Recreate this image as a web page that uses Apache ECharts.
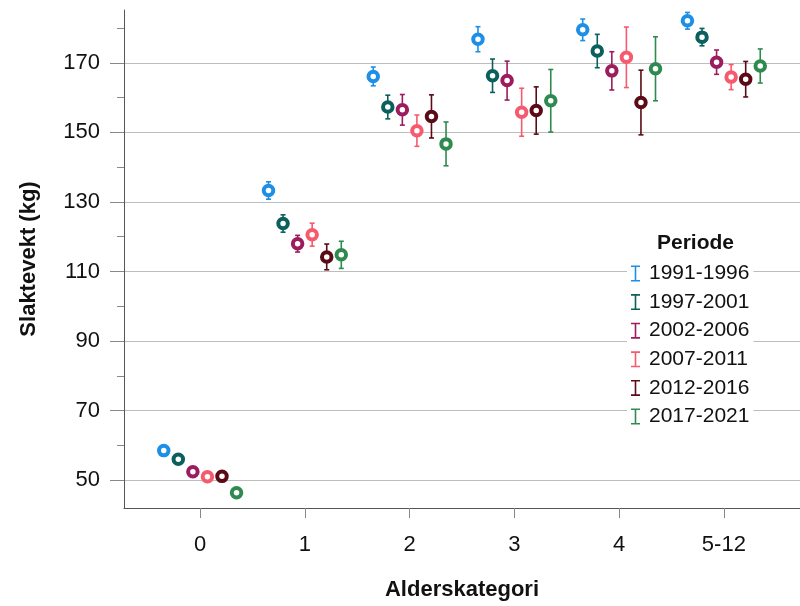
<!DOCTYPE html>
<html><head><meta charset="utf-8">
<script src="https://cdn.jsdelivr.net/npm/echarts@6/dist/echarts.min.js"></script>
<style>html,body{margin:0;padding:0;background:#fff}#c{width:800px;height:606px}</style>
</head><body><div id="c"></div>
<script>
const categories = ['0', '1', '2', '3', '4', '5-12'];
const periods = ['1991-1996', '1997-2001', '2002-2006', '2007-2011', '2012-2016', '2017-2021'];
const mean1991 = [58.5, 133.3, 166.1, 176.8, 179.5, 182.1];
const err1991  = [0.8, 2.5, 2.7, 3.6, 3.1, 2.4];
const mean1997 = [56.0, 123.8, 157.3, 166.3, 173.4, 177.4];
const err1997  = [0.8, 2.5, 3.4, 4.8, 4.8, 2.5];
const mean2002 = [52.4, 118.0, 156.5, 164.9, 167.7, 170.2];
const err2002  = [0.9, 2.4, 4.4, 5.6, 5.5, 3.5];
const mean2007 = [51.0, 120.6, 150.5, 155.8, 171.6, 165.9];
const err2007  = [0.9, 3.3, 4.5, 6.9, 8.7, 3.6];
const mean2012 = [51.1, 114.2, 154.6, 156.3, 158.6, 165.3];
const err2012  = [1.0, 3.7, 6.2, 6.8, 9.3, 5.1];
const mean2017 = [46.4, 114.8, 146.7, 159.1, 168.3, 169.1];
const err2017  = [1.1, 3.9, 6.3, 9.0, 9.2, 4.9];
const yLabelValues = [50, 70, 90, 110, 130, 150, 170];
const yMinorValues = [60, 80, 100, 120, 140, 160, 180];

const means = [mean1991, mean1997, mean2002, mean2007, mean2012, mean2017];
const errs = [err1991, err1997, err2002, err2007, err2012, err2017];
const colors = ['#1e8fe6', '#0b5f5c', '#9b1c5f', '#f65a6e', '#5b0b15', '#2f8a50'];
const FONT = '"Liberation Sans", Arial, sans-serif';
const dodge = 0.139;

const series = [];
periods.forEach((p, i) => {
  const off = (i - 2.5) * dodge;
  series.push({
    name: p, type: 'custom', z: 3, color: colors[i],
    encode: { x: 0, y: [1, 2] },
    data: means[i].map((m, k) => [k + off, m - errs[i][k], m + errs[i][k]]),
    renderItem(params, api) {
      const x = api.value(0);
      const a = api.coord([x, api.value(1)]);
      const b = api.coord([x, api.value(2)]);
      const st = { stroke: colors[i], lineWidth: 1.6 };
      return { type: 'group', children: [
        { type: 'line', shape: { x1: a[0], y1: a[1], x2: b[0], y2: b[1] }, style: st },
        { type: 'line', shape: { x1: a[0] - 2.5, y1: a[1], x2: a[0] + 2.5, y2: a[1] }, style: st },
        { type: 'line', shape: { x1: b[0] - 2.5, y1: b[1], x2: b[0] + 2.5, y2: b[1] }, style: st }
      ]};
    }
  });
  series.push({
    name: p, type: 'scatter', z: 4, color: colors[i],
    symbol: 'circle', symbolSize: 9.5,
    itemStyle: { color: '#fff', borderColor: colors[i], borderWidth: 4, opacity: 1 },
    data: means[i].map((m, k) => [k + off, m])
  });
});

const chart = echarts.init(document.getElementById('c'), null, { renderer: 'canvas' });
chart.setOption({
  animation: false,
  backgroundColor: '#fff',
  textStyle: { fontFamily: FONT },
  grid: { left: 124, top: 10, bottom: 96, right: -34 },
  title: { text: 'Periode', left: 652, top: 228,
    textStyle: { fontFamily: FONT, fontWeight: 'bold', fontSize: 21, color: '#111' } },
  legend: {
    orient: 'vertical', left: 627, top: 261, data: periods,
    backgroundColor: '#fff', padding: [2, 4, 2, 4],
    itemWidth: 9, itemHeight: 16, itemGap: 7.6,
    icon: 'path://M0,0H9V1.6H5.3V14.4H9V16H0V14.4H3.7V1.6H0Z',
    textStyle: { fontFamily: FONT, fontSize: 21, color: '#111', lineHeight: 20, padding: [0, 0, 0, 4] },
    selectedMode: false
  },
  xAxis: {
    type: 'value', min: -0.727, max: 5.727,
    name: 'Alderskategori', nameLocation: 'middle', nameGap: 71,
    nameTextStyle: { fontFamily: FONT, fontWeight: 'bold', fontSize: 22, color: '#111' },
    axisLine: { show: true, onZero: false, lineStyle: { color: '#555', width: 1 } },
    axisTick: { show: true, length: 10, customValues: [0, 1, 2, 3, 4, 5], lineStyle: { color: '#888' } },
    axisLabel: { customValues: [0, 1, 2, 3, 4, 5], formatter: v => categories[Math.round(v)],
      fontFamily: FONT, fontSize: 22, color: '#111', margin: 26 },
    splitLine: { show: false }
  },
  yAxis: [{
    type: 'value', min: 42, max: 185.2, position: 'left',
    name: 'Slaktevekt (kg)', nameLocation: 'middle', nameGap: 84,
    nameTextStyle: { fontFamily: FONT, fontWeight: 'bold', fontSize: 22, color: '#111' },
    axisLine: { show: true, onZero: false, lineStyle: { color: '#555', width: 1 } },
    axisTick: { show: true, length: 14, customValues: yLabelValues, lineStyle: { color: '#888' } },
    axisLabel: { customValues: yLabelValues, fontFamily: FONT, fontSize: 22, color: '#111', margin: 24 },
    splitLine: { show: true, lineStyle: { color: '#bdbdbd', width: 1 } }
  }, {
    type: 'value', min: 42, max: 185.2, position: 'left', offset: 0,
    axisLine: { show: false, onZero: false },
    axisTick: { show: true, length: 7, customValues: yMinorValues, lineStyle: { color: '#888' } },
    axisLabel: { show: false },
    splitLine: { show: false }
  }],
  series: series
});
</script></body></html>
